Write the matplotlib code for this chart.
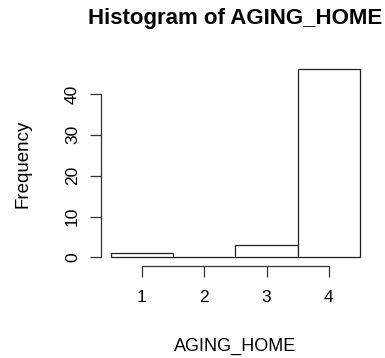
import matplotlib.pyplot as plt
import numpy as np

plt.rcParams['font.family'] = ['Liberation Sans', 'DejaVu Sans']

# counts per AGING_HOME level
levels = [1, 2, 3, 4]
counts = [1, 0, 3, 46]
edges = [0.5, 1.5, 2.5, 3.5, 4.5]

fig = plt.figure(figsize=(3.85, 3.58), dpi=100)
ax = fig.add_axes([0.262, 0.26, 0.699, 0.567])

ax.bar(levels, counts, width=1.0, color='white', edgecolor='#222222', linewidth=0.9)

ax.set_xlim(0.34, 4.66)
ax.set_ylim(-1.84, 47.84)

ax.set_xticks(levels)
ax.set_yticks([0, 10, 20, 30, 40])
for side in ['top', 'right']:
    ax.spines[side].set_visible(False)
ax.spines['left'].set_bounds(0, 40)
ax.spines['bottom'].set_bounds(1, 4)
ax.spines['bottom'].set_position(('outward', 1))
for side in ['left', 'bottom']:
    ax.spines[side].set_color('#333333')
    ax.spines[side].set_linewidth(0.9)

ax.tick_params(axis='both', length=8, width=0.9, color='#333333', labelsize=12.5, pad=7)
ax.tick_params(axis='x', pad=9)
ax.tick_params(axis='y', labelrotation=90)
for lbl in ax.get_yticklabels():
    lbl.set_va('center')

ax.set_xlabel('AGING_HOME', fontsize=13, labelpad=24)
ax.set_ylabel('Frequency', fontsize=13.5, labelpad=24)
ax.set_title('Histogram of AGING_HOME', fontsize=16, fontweight='bold', pad=27)

fig.savefig('out.png', dpi=100)
